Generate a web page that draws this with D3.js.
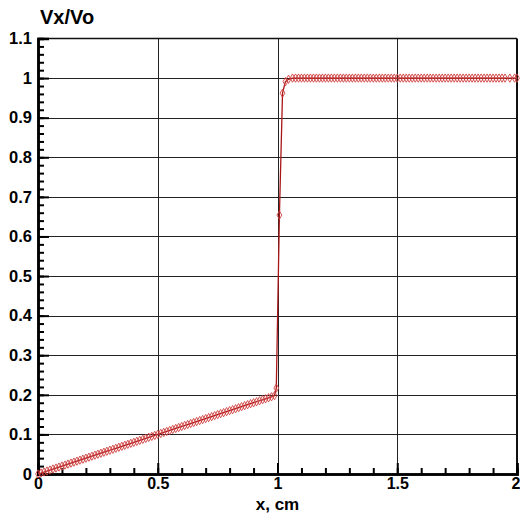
<!DOCTYPE html>
<html>
<head>
<meta charset="utf-8">
<script src="https://cdn.jsdelivr.net/npm/d3@7"></script>
<style>
  html, body { margin: 0; padding: 0; background: #fff; }
  svg { display: block; }
  text { font-family: "Liberation Sans", Arial, sans-serif; font-weight: bold; fill: #000; }
</style>
</head>
<body>
<svg id="chart" width="520" height="515"></svg>
<script>
// Velocity profile Vx/Vo along x (cm)
const xValues = [
  0, 0.0125, 0.025, 0.0375, 0.05, 0.0625, 0.075, 0.0875, 0.1, 0.1125,
  0.125, 0.1375, 0.15, 0.1625, 0.175, 0.1875, 0.2, 0.2125, 0.225, 0.2375,
  0.25, 0.2625, 0.275, 0.2875, 0.3, 0.3125, 0.325, 0.3375, 0.35, 0.3625,
  0.375, 0.3875, 0.4, 0.4125, 0.425, 0.4375, 0.45, 0.4625, 0.475, 0.4875,
  0.5, 0.5125, 0.525, 0.5375, 0.55, 0.5625, 0.575, 0.5875, 0.6, 0.6125,
  0.625, 0.6375, 0.65, 0.6625, 0.675, 0.6875, 0.7, 0.7125, 0.725, 0.7375,
  0.75, 0.7625, 0.775, 0.7875, 0.8, 0.8125, 0.825, 0.8375, 0.85, 0.8625,
  0.875, 0.8875, 0.9, 0.9125, 0.925, 0.9375, 0.95, 0.9625, 0.975, 0.9875,
  0.995, 1.008, 1.021, 1.033, 1.046,
  1.0625, 1.075, 1.0875, 1.1, 1.1125, 1.125, 1.1375, 1.15, 1.1625, 1.175,
  1.1875, 1.2, 1.2125, 1.225, 1.2375, 1.25, 1.2625, 1.275, 1.2875, 1.3,
  1.3125, 1.325, 1.3375, 1.35, 1.3625, 1.375, 1.3875, 1.4, 1.4125, 1.425,
  1.4375, 1.45, 1.4625, 1.475, 1.4875, 1.5, 1.5125, 1.525, 1.5375, 1.55,
  1.5625, 1.575, 1.5875, 1.6, 1.6125, 1.625, 1.6375, 1.65, 1.6625, 1.675,
  1.6875, 1.7, 1.7125, 1.725, 1.7375, 1.75, 1.7625, 1.775, 1.7875, 1.8,
  1.8125, 1.825, 1.8375, 1.85, 1.8625, 1.875, 1.8875, 1.9, 1.9125, 1.925,
  1.9375, 1.95, 1.97, 1.99, 2.0
];
const vRatio = [
  0, 0.0025, 0.005, 0.0075, 0.01, 0.0125, 0.015, 0.0175, 0.02, 0.0225,
  0.025, 0.0275, 0.03, 0.0325, 0.035, 0.0375, 0.04, 0.0425, 0.045, 0.0475,
  0.05, 0.0525, 0.055, 0.0575, 0.06, 0.0625, 0.065, 0.0675, 0.07, 0.0725,
  0.075, 0.0775, 0.08, 0.0825, 0.085, 0.0875, 0.09, 0.0925, 0.095, 0.0975,
  0.1, 0.1025, 0.105, 0.1075, 0.11, 0.1125, 0.115, 0.1175, 0.12, 0.1225,
  0.125, 0.1275, 0.13, 0.1325, 0.135, 0.1375, 0.14, 0.1425, 0.145, 0.1475,
  0.15, 0.1525, 0.155, 0.1575, 0.16, 0.1625, 0.165, 0.1675, 0.17, 0.1725,
  0.175, 0.1775, 0.18, 0.1825, 0.185, 0.1875, 0.19, 0.1925, 0.195, 0.198,
  0.217, 0.654, 0.962, 0.991, 0.997,
  1, 1, 1, 1, 1, 1, 1, 1, 1, 1,
  1, 1, 1, 1, 1, 1, 1, 1, 1, 1,
  1, 1, 1, 1, 1, 1, 1, 1, 1, 1,
  1, 1, 1, 1, 1, 1, 1, 1, 1, 1,
  1, 1, 1, 1, 1, 1, 1, 1, 1, 1,
  1, 1, 1, 1, 1, 1, 1, 1, 1, 1,
  1, 1, 1, 1, 1, 1, 1, 1, 1, 1,
  1, 1, 1, 1, 1
];
const xTicks = [0, 0.5, 1, 1.5, 2];
const yTicks = [0, 0.1, 0.2, 0.3, 0.4, 0.5, 0.6, 0.7, 0.8, 0.9, 1, 1.1];
const xTitle = "x, cm";
const yTitle = "Vx/Vo";

const points = xValues.map((x, i) => ({ x, y: vRatio[i] }));

const svg = d3.select("#chart");
const margin = { left: 38, right: 3, top: 38.5, bottom: 41 };
const W = 520, H = 515;

const xScale = d3.scaleLinear().domain([0, 2]).range([margin.left, W - margin.right]);
const yScale = d3.scaleLinear().domain([0, 1.1]).range([H - margin.bottom, margin.top]);

// grid lines at major ticks
const grid = svg.append("g").attr("stroke", "#222").attr("stroke-width", 1);
grid.selectAll("line.vx").data(xTicks.slice(1, -1)).join("line")
  .attr("x1", d => Math.round(xScale(d)) + 0.5).attr("x2", d => Math.round(xScale(d)) + 0.5)
  .attr("y1", yScale(1.1)).attr("y2", yScale(0));
grid.selectAll("line.hy").data(yTicks.slice(1, -1)).join("line")
  .attr("y1", d => Math.round(yScale(d)) + 0.5).attr("y2", d => Math.round(yScale(d)) + 0.5)
  .attr("x1", xScale(0)).attr("x2", xScale(2));

// frame: top and right
svg.append("line").attr("x1", xScale(0)).attr("x2", xScale(2))
  .attr("y1", yScale(1.1)).attr("y2", yScale(1.1)).attr("stroke", "#111").attr("stroke-width", 1.5);
svg.append("line").attr("x1", xScale(2)).attr("x2", xScale(2))
  .attr("y1", yScale(1.1)).attr("y2", yScale(0)).attr("stroke", "#111").attr("stroke-width", 2);

const tickFont = "16.5px";

// bottom axis with inward ticks
const xMinor = d3.range(0, 2.0001, 0.1).map(v => +v.toFixed(2));
const xAxis = svg.append("g").attr("transform", `translate(0,${yScale(0)})`);
xAxis.call(d3.axisBottom(xScale).tickValues(xMinor).tickSize(-6).tickFormat(""));
xAxis.append("g").call(d3.axisBottom(xScale).tickValues(xTicks).tickSize(-11).tickFormat(d3.format("")));
xAxis.selectAll("path.domain").attr("stroke", "#000").attr("stroke-width", 2.5);
xAxis.selectAll(".tick line").attr("stroke", "#000").attr("stroke-width", 2);
xAxis.selectAll(".tick text").attr("y", 4).attr("dy", "0.71em")
  .style("font-size", "16px").style("font-family", "Liberation Sans, Arial, sans-serif").style("font-weight", "bold");
// keep the last label inside the page
xAxis.selectAll(".tick text").filter(d => d === 2).attr("text-anchor", "end").attr("x", 3);

// left axis with inward ticks
const yMinor = d3.range(0, 1.1001, 0.02).map(v => +v.toFixed(2));
const yAxis = svg.append("g").attr("transform", `translate(${xScale(0)},0)`);
yAxis.call(d3.axisLeft(yScale).tickValues(yMinor).tickSize(-6).tickFormat(""));
yAxis.append("g").call(d3.axisLeft(yScale).tickValues(yTicks).tickSize(-11).tickFormat(d3.format("")));
yAxis.selectAll("path.domain").attr("stroke", "#000").attr("stroke-width", 2.5);
yAxis.selectAll(".tick line").attr("stroke", "#000").attr("stroke-width", 2);
yAxis.selectAll(".tick text").attr("x", -6)
  .style("font-size", tickFont).style("font-family", "Liberation Sans, Arial, sans-serif").style("font-weight", "bold");

// data line
const line = d3.line().x(d => xScale(d.x)).y(d => yScale(d.y));
svg.append("path").datum(points)
  .attr("fill", "none").attr("stroke", "#a81818").attr("stroke-width", 1.3)
  .attr("d", line);

// diamond markers
const diamond = d3.symbol().type(d3.symbolDiamond).size(20);
svg.append("g").selectAll("path").data(points).join("path")
  .attr("transform", d => `translate(${xScale(d.x)},${yScale(d.y)})`)
  .attr("d", diamond)
  .attr("fill", "none").attr("stroke", "#d04040").attr("stroke-width", 0.9);

// axis titles
svg.append("text").attr("x", 40).attr("y", 24).style("font-size", "20px").text(yTitle);
svg.append("text").attr("x", xScale(1)).attr("y", 510).attr("text-anchor", "middle")
  .style("font-size", "17px").text(xTitle);
</script>
</body>
</html>
